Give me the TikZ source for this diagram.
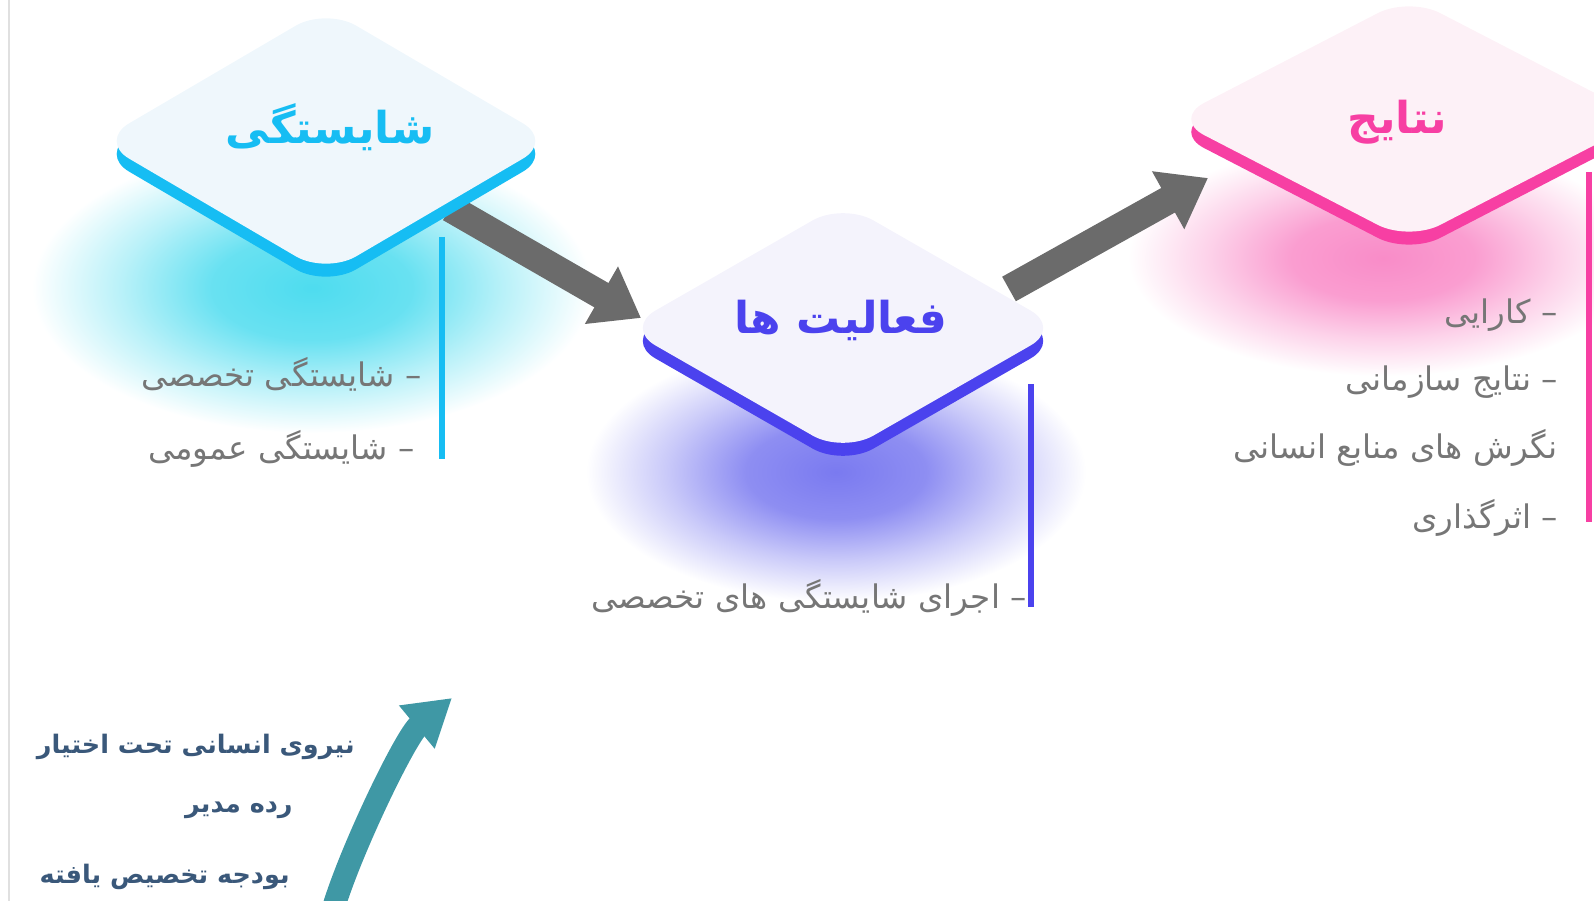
\documentclass[tikz,border=0pt]{standalone}
\usepackage{fontspec}
\usepackage{xcolor}
\usepackage{tikz}
\usetikzlibrary{positioning,arrows.meta}
\TeXXeTstate=1
\newfontfamily\fafont[Script=Arabic]{DejaVu Sans}

\definecolor{skyc}{HTML}{16BDF3}
\definecolor{indc}{HTML}{4B42EE}
\definecolor{rosec}{HTML}{F73FA3}
\definecolor{skyface}{HTML}{EFF7FC}
\definecolor{indface}{HTML}{F4F3FC}
\definecolor{roseface}{HTML}{FDF1F7}
\definecolor{arrowgrey}{HTML}{6B6B6B}
\definecolor{itemgrey}{HTML}{767676}
\definecolor{tealc}{HTML}{3F98A5}
\definecolor{navyc}{HTML}{3A587A}
\definecolor{skyglow}{HTML}{4EDCEF}
\definecolor{indglow}{HTML}{7A7AF0}
\definecolor{roseglow}{HTML}{F98CC8}
\pgfdeclareradialshading{skyglowsh}{\pgfpoint{0bp}{0bp}}{color(0bp)=(skyglow); color(9bp)=(skyglow!85!white); color(17bp)=(skyglow!40!white); color(25bp)=(white); color(50bp)=(white)}
\pgfdeclareradialshading{indglowsh}{\pgfpoint{0bp}{0bp}}{color(0bp)=(indglow); color(9bp)=(indglow!85!white); color(17bp)=(indglow!40!white); color(25bp)=(white); color(50bp)=(white)}
\pgfdeclareradialshading{roseglowsh}{\pgfpoint{0bp}{0bp}}{color(0bp)=(roseglow); color(9bp)=(roseglow!85!white); color(17bp)=(roseglow!40!white); color(25bp)=(white); color(50bp)=(white)}

\begin{document}
\begin{tikzpicture}[x=0.02cm,y=-0.02cm,
    item/.style={font=\fafont\fontsize{18.5}{22}\selectfont, text=itemgrey, anchor=east, inner sep=0pt},
    ttl/.style={font=\fafont\bfseries\fontsize{25}{30}\selectfont, inner sep=0pt},
    side/.style={font=\fafont\bfseries\fontsize{14.5}{18}\selectfont, text=navyc, anchor=east, inner sep=0pt},
    bigarrow/.style={arrowgrey, line width=16pt, -{Triangle[length=26pt,width=36pt]}}]
    \useasboundingbox (0,0) rectangle (1594,901);
    \clip (0,0) rectangle (1594,901);
    % glows under the slabs
    \shade[shading=skyglowsh] (312,288) ellipse [x radius=280, y radius=145];
    \shade[shading=indglowsh] (836,472) ellipse [x radius=250, y radius=130];
    \shade[shading=roseglowsh] (1383,258) ellipse [x radius=255, y radius=118];
    \draw[black!12, line width=1.2pt] (9,0) -- (9,901);
    % arrows
    \coordinate (c1s) at (450,208);
    \coordinate (c1e) at (641,318);
    \coordinate (c2s) at (1009,289);
    \coordinate (c2e) at (1208,178);
    \draw[bigarrow] (c1s) -- (c1e);
    \draw[bigarrow] (c2s) -- (c2e);
    % slabs
    \foreach \nm/\cx/\cy/\w/\h/\col/\face in {
        comp/326/141/227/133/skyc/skyface,
        act/843/328/218/125/indc/indface,
        res/1409/119/236/122/rosec/roseface} {
      \fill[\col,rounded corners=0.7cm] (\cx-\w/2,\cy-\h/2+13) -- (\cx,\cy-\h+13) -- (\cx+\w,\cy+13)
          -- (\cx,\cy+\h+13) -- (\cx-\w,\cy+13) -- cycle;
      \fill[\face,rounded corners=0.7cm] (\cx-\w/2,\cy-\h/2) -- (\cx,\cy-\h) -- (\cx+\w,\cy)
          -- (\cx,\cy+\h) -- (\cx-\w,\cy) -- cycle;
      \coordinate (\nm) at (\cx,\cy);
    }
    \node[ttl, text=skyc] (compt) at (330,127) {\beginR شایستگی\endR};
    \node[ttl, text=indc] (actt) at (841,320) {\beginR فعالیت ها\endR};
    \node[ttl, text=rosec] (rest) at (1397,122) {\beginR نتایج\endR};
    % side bars
    \draw[skyc, line width=3pt] (442,237) -- (442,459);
    \draw[indc, line width=3pt] (1031,384) -- (1031,607);
    \draw[rosec, line width=3pt] (1589,172) -- (1589,522);
    % items
    \node[item] (comp1) at (422,374) {\beginR – شایستگی تخصصی\endR};
    \node[item] (comp2) at (415,449) {\beginR – شایستگی عمومی\endR};
    \node[item] (act1) at (1027,598) {\beginR – اجرای شایستگی های تخصصی\endR};
    \node[item] (res1) at (1558,315) {\beginR – کارایی\endR};
    \node[item] (res2) at (1558,382) {\beginR – نتایج سازمانی\endR};
    \node[item] (res3) at (1558,448) {\beginR نگرش های منابع انسانی\endR};
    \node[item] (res4) at (1558,518) {\beginR – اثرگذاری\endR};
    % inputs
    \coordinate (b0) at (334,906);
    \coordinate (b1) at (452,698);
    \draw[tealc, line width=13pt, -{Triangle[length=26pt,width=30pt]}] (b0) .. controls (353,845) and (406,736) .. (b1);
    \node[side] (in1) at (355,747) {\beginR نیروی انسانی تحت اختیار\endR};
    \node[side] (in2) at (293,810) {\beginR رده مدیر\endR};
    \node[side] (in3) at (290,877) {\beginR بودجه تخصیص یافته\endR};
  \end{tikzpicture}
\end{document}
